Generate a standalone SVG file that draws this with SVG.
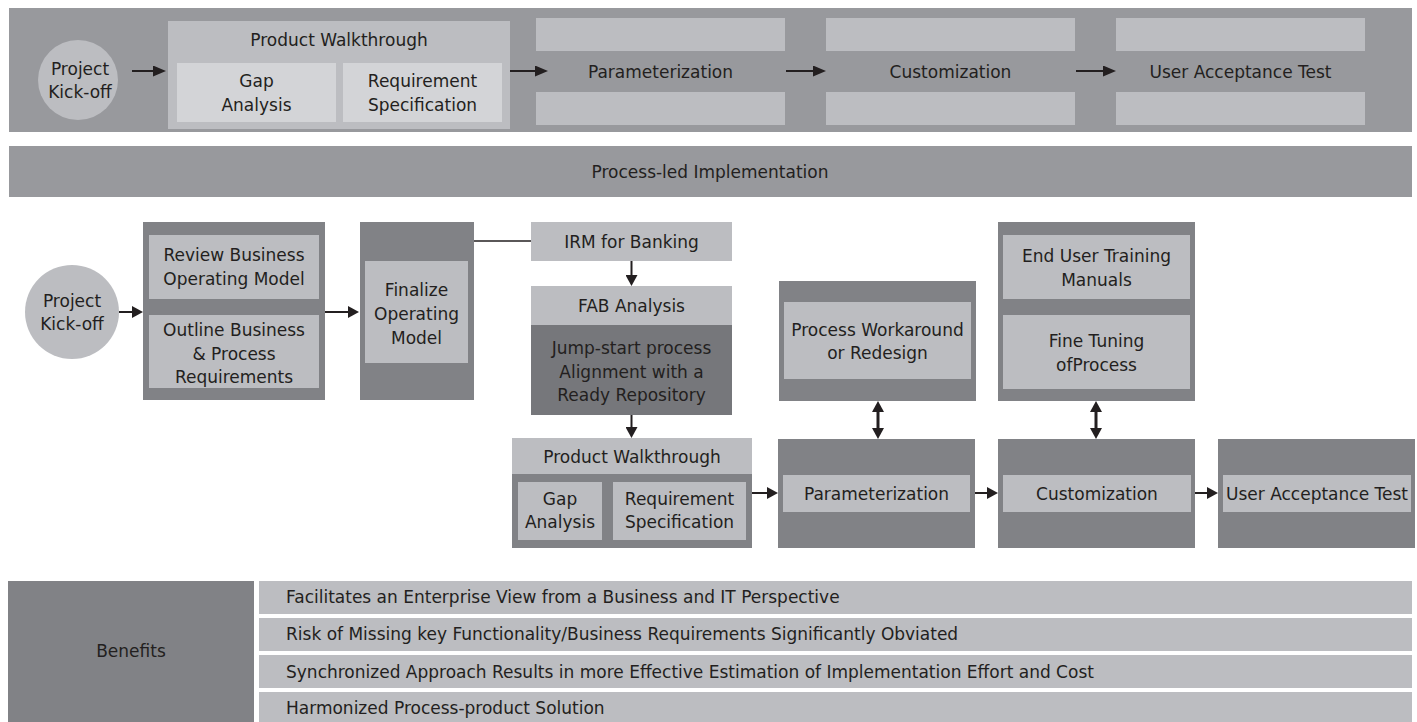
<svg xmlns="http://www.w3.org/2000/svg" width="1417" height="722" viewBox="0 0 1417 722">
<defs>
<style>
.band{fill:#98999d}
.lt{fill:#bcbdc1}
.lt2{fill:#d3d4d7}
.dk{fill:#818286}
.dk2{fill:#76777b}
text{font-family:"DejaVu Sans","Liberation Sans",sans-serif;font-size:17px;fill:#231f20}
.c{text-anchor:middle}
.ln{stroke:#231f20;stroke-width:2;fill:none}
.dbl{stroke:#231f20;stroke-width:3;fill:none}
.thin{stroke:#231f20;stroke-width:1.5;fill:none}
</style>
<marker id="ah" viewBox="0 0 11 12" refX="7" refY="6" markerWidth="11" markerHeight="12" markerUnits="userSpaceOnUse" orient="auto-start-reverse">
<path d="M0,0 L11,6 L0,12 z" fill="#231f20"/>
</marker>
<marker id="ahb" viewBox="0 0 13 11" refX="8" refY="5.5" markerWidth="13" markerHeight="11" markerUnits="userSpaceOnUse" orient="auto-start-reverse">
<path d="M0,0 L13,5.5 L0,11 z" fill="#231f20"/>
</marker>
</defs>

<g id="top-band">
<rect class="band" x="9" y="8" width="1403" height="124"/>
</g>
<g id="top-kickoff">
<circle class="lt" cx="78" cy="80" r="40"/>
<text class="c" x="80" y="75">Project</text>
<text class="c" x="80" y="98">Kick-off</text>
</g>
<g id="top-walkthrough">
<rect class="lt" x="168" y="21" width="342" height="108"/>
<text class="c" x="339" y="46">Product  Walkthrough</text>
<rect class="lt2" x="177" y="63" width="159" height="59"/>
<text class="c" x="256.5" y="87">Gap</text>
<text class="c" x="256.5" y="111">Analysis</text>
<rect class="lt2" x="343" y="63" width="159" height="59"/>
<text class="c" x="422.5" y="87">Requirement</text>
<text class="c" x="422.5" y="111">Specification</text>
</g>
<g id="top-param">
<rect class="lt" x="536" y="18" width="249" height="33"/>
<rect class="lt" x="536" y="92" width="249" height="33"/>
<text class="c" x="660.5" y="78">Parameterization</text>
</g>
<g id="top-custom">
<rect class="lt" x="826" y="18" width="249" height="33"/>
<rect class="lt" x="826" y="92" width="249" height="33"/>
<text class="c" x="950.5" y="78">Customization</text>
</g>
<g id="top-uat">
<rect class="lt" x="1116" y="18" width="249" height="33"/>
<rect class="lt" x="1116" y="92" width="249" height="33"/>
<text class="c" x="1240.5" y="78">User Acceptance Test</text>
</g>

<g id="band-process-led">
<rect class="band" x="9" y="146" width="1403" height="51"/>
<text class="c" x="710" y="178">Process-led Implementation</text>
</g>

<g id="kickoff">
<circle class="lt" cx="72" cy="312" r="47"/>
<text class="c" x="72" y="307">Project</text>
<text class="c" x="72" y="330">Kick-off</text>
</g>
<g id="review-outline">
<rect class="dk" x="143" y="222" width="182" height="178"/>
<rect class="lt" x="149" y="235" width="170" height="64"/>
<text class="c" x="234" y="261">Review Business</text>
<text class="c" x="234" y="285">Operating Model</text>
<rect class="lt" x="149" y="315" width="170" height="73"/>
<text class="c" x="234" y="336">Outline Business</text>
<text class="c" x="234" y="359.5">&amp; Process</text>
<text class="c" x="234" y="383">Requirements</text>
</g>
<g id="finalize">
<rect class="dk" x="360" y="222" width="114" height="178"/>
<rect class="lt" x="365" y="261" width="103" height="102"/>
<text class="c" x="416.5" y="296">Finalize</text>
<text class="c" x="416.5" y="320">Operating</text>
<text class="c" x="416.5" y="344">Model</text>
</g>
<g id="irm">
<rect class="lt" x="531" y="222" width="201" height="39"/>
<text class="c" x="631.5" y="248">IRM for Banking</text>
</g>
<g id="fab">
<rect class="lt" x="531" y="286" width="201" height="39"/>
<text class="c" x="631.5" y="312">FAB Analysis</text>
<rect class="dk2" x="531" y="325" width="201" height="90"/>
<text class="c" x="631.5" y="354">Jump-start process</text>
<text class="c" x="631.5" y="378">Alignment with a</text>
<text class="c" x="631.5" y="401">Ready Repository</text>
</g>
<g id="walkthrough">
<rect class="lt" x="512" y="438" width="240" height="36"/>
<text class="c" x="632" y="463">Product  Walkthrough</text>
<rect class="dk" x="512" y="474" width="240" height="74"/>
<rect class="lt" x="518" y="482" width="84" height="58"/>
<text class="c" x="560" y="505">Gap</text>
<text class="c" x="560" y="528">Analysis</text>
<rect class="lt" x="613" y="482" width="133" height="58"/>
<text class="c" x="679.5" y="505">Requirement</text>
<text class="c" x="679.5" y="528">Specification</text>
</g>
<g id="workaround">
<rect class="dk" x="779" y="281" width="197" height="120"/>
<rect class="lt" x="784" y="302" width="187" height="77"/>
<text class="c" x="877.5" y="336">Process Workaround</text>
<text class="c" x="877.5" y="359">or Redesign</text>
</g>
<g id="parameterization">
<rect class="dk" x="778" y="439" width="197" height="109"/>
<rect class="lt" x="783" y="475" width="187" height="37"/>
<text class="c" x="876.5" y="500">Parameterization</text>
</g>
<g id="training-tuning">
<rect class="dk" x="998" y="222" width="197" height="179"/>
<rect class="lt" x="1003" y="235" width="187" height="64"/>
<text class="c" x="1096.5" y="262">End User Training</text>
<text class="c" x="1096.5" y="286">Manuals</text>
<rect class="lt" x="1003" y="315" width="187" height="74"/>
<text class="c" x="1096.5" y="347">Fine Tuning</text>
<text class="c" x="1096.5" y="371">ofProcess</text>
</g>
<g id="customization">
<rect class="dk" x="998" y="439" width="197" height="109"/>
<rect class="lt" x="1003" y="475" width="188" height="37"/>
<text class="c" x="1097" y="500">Customization</text>
</g>
<g id="uat">
<rect class="dk" x="1218" y="439" width="197" height="109"/>
<rect class="lt" x="1223" y="475" width="188" height="37"/>
<text class="c" x="1317" y="500">User Acceptance Test</text>
</g>

<g id="benefits">
<rect class="dk" x="8" y="581" width="246" height="141"/>
<text class="c" x="131" y="657">Benefits</text>
<rect class="lt" x="259" y="581" width="1153" height="33"/>
<text x="286" y="603">Facilitates an Enterprise View from a Business and IT Perspective</text>
<rect class="lt" x="259" y="618" width="1153" height="33"/>
<text x="286" y="640">Risk of Missing key Functionality/Business Requirements Significantly Obviated</text>
<rect class="lt" x="259" y="655" width="1153" height="33"/>
<text x="286" y="677.5">Synchronized Approach Results in more Effective Estimation of Implementation Effort and Cost</text>
<rect class="lt" x="259" y="692" width="1153" height="30"/>
<text x="286" y="714">Harmonized Process-product Solution</text>
</g>

<g id="connectors">
<path class="ln" d="M132,71 H161" marker-end="url(#ahb)"/>
<path class="ln" d="M510,71 H543" marker-end="url(#ahb)"/>
<path class="ln" d="M786,71 H821" marker-end="url(#ahb)"/>
<path class="ln" d="M1076,71 H1111" marker-end="url(#ahb)"/>
<path class="ln" d="M119,312 H139" marker-end="url(#ah)"/>
<path class="ln" d="M325,312 H355" marker-end="url(#ah)"/>
<path class="thin" d="M474,241 H531"/>
<path class="ln" d="M631.5,261 V282" marker-end="url(#ah)"/>
<path class="ln" d="M631.5,415 V434" marker-end="url(#ah)"/>
<path class="ln" d="M752,493 H774" marker-end="url(#ah)"/>
<path class="ln" d="M975,493 H994" marker-end="url(#ah)"/>
<path class="ln" d="M1195,493 H1214" marker-end="url(#ah)"/>
<path class="dbl" d="M878,405 V435" marker-start="url(#ah)" marker-end="url(#ah)"/>
<path class="dbl" d="M1096,405 V435" marker-start="url(#ah)" marker-end="url(#ah)"/>
</g>
</svg>
